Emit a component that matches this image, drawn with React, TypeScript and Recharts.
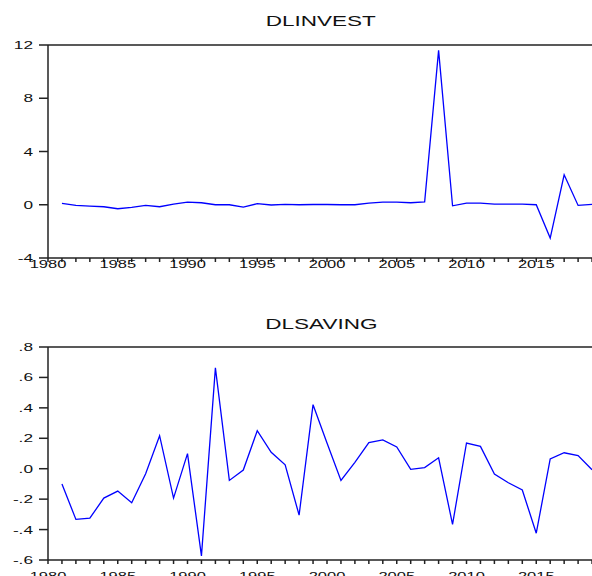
import { LineChart, Line, XAxis, YAxis, ReferenceLine } from "recharts";

const years = [
  1981, 1982, 1983, 1984, 1985, 1986, 1987, 1988, 1989, 1990,
  1991, 1992, 1993, 1994, 1995, 1996, 1997, 1998, 1999, 2000,
  2001, 2002, 2003, 2004, 2005, 2006, 2007, 2008, 2009, 2010,
  2011, 2012, 2013, 2014, 2015, 2016, 2017, 2018, 2019,
];

const dlinvest = [
  0.1, -0.05, -0.1, -0.15, -0.3, -0.2, -0.05, -0.15, 0.05, 0.2,
  0.15, 0.0, 0.0, -0.18, 0.08, -0.02, 0.03, 0.0, 0.02, 0.02,
  0.0, 0.0, 0.12, 0.2, 0.2, 0.15, 0.22, 11.6, -0.08, 0.12,
  0.12, 0.05, 0.05, 0.05, 0.0, -2.5, 2.25, -0.05, 0.03,
];

const dlsaving = [
  -0.1, -0.333, -0.325, -0.193, -0.147, -0.224, -0.033, 0.217, -0.193, 0.099,
  -0.573, 0.663, -0.077, -0.009, 0.25, 0.108, 0.026, -0.305, 0.421, 0.169,
  -0.077, 0.042, 0.171, 0.189, 0.143, -0.004, 0.007, 0.072, -0.366, 0.169,
  0.147, -0.035, -0.092, -0.14, -0.424, 0.064, 0.105, 0.086, -0.007,
];

const xTicks = [
  1980, 1981, 1982, 1983, 1984, 1985, 1986, 1987, 1988, 1989,
  1990, 1991, 1992, 1993, 1994, 1995, 1996, 1997, 1998, 1999,
  2000, 2001, 2002, 2003, 2004, 2005, 2006, 2007, 2008, 2009,
  2010, 2011, 2012, 2013, 2014, 2015, 2016, 2017, 2018, 2019, 2020,
];
const yearLabels = [1980, 1985, 1990, 1995, 2000, 2005, 2010, 2015];
const investTicks = [-4, 0, 4, 8, 12];
const savingTicks = [-0.6, -0.4, -0.2, 0, 0.2, 0.4, 0.6, 0.8];

const investData = years.map((year, i) => ({ year, value: dlinvest[i] }));
const savingData = years.map((year, i) => ({ year, value: dlsaving[i] }));

const FONT = "'Liberation Sans', Arial, sans-serif";
const AXIS = "#222";

function makeYearTick(offset: number) {
  return function YearTick(props: any) {
    const { x, y, payload } = props;
    if (!yearLabels.includes(payload.value)) return null;
    return (
      <text
        transform={`translate(${x},${y + offset}) scale(1.5,1)`}
        textAnchor="middle"
        fontSize={11}
        fontFamily={FONT}
        fill="#111"
      >
        {payload.value}
      </text>
    );
  };
}

function makeValueTick(fmt: (v: number) => string) {
  return function ValueTick(props: any) {
    const { y, payload } = props;
    return (
      <text
        transform={`translate(33,${y + 4}) scale(1.5,1)`}
        textAnchor="end"
        fontSize={11.5}
        fontFamily={FONT}
        fill="#111"
      >
        {fmt(payload.value)}
      </text>
    );
  };
}

const InvestTick = makeValueTick((v) => String(v));
const SavingTick = makeValueTick((v) => v.toFixed(1).replace("0.", "."));
const TopYearTick = makeYearTick(6);
const BottomYearTick = makeYearTick(16);

function Title({ text, top }: { text: string; top: number }) {
  return (
    <div
      style={{
        position: "absolute",
        left: 0,
        top,
        width: 642,
        textAlign: "center",
        fontFamily: FONT,
        fontSize: 15,
        lineHeight: "15px",
        color: "#111",
      }}
    >
      <span style={{ display: "inline-block", transform: "scaleX(1.5)" }}>{text}</span>
    </div>
  );
}

function Panel({
  data,
  domain,
  ticks,
  tick,
  xTick,
  top,
  marginTop,
  marginBottom,
  height,
}: {
  data: { year: number; value: number }[];
  domain: [number, number];
  ticks: number[];
  tick: any;
  xTick: any;
  top: number;
  marginTop: number;
  marginBottom: number;
  height: number;
}) {
  return (
    <div style={{ position: "absolute", left: 0, top }}>
      <LineChart
        width={620}
        height={height}
        data={data}
        margin={{ top: marginTop, right: 14, left: 0, bottom: marginBottom }}
      >
        <XAxis
          dataKey="year"
          type="number"
          domain={[1980, 2020]}
          ticks={xTicks}
          interval={0}
          tickSize={4}
          tickMargin={0}
          height={20}
          stroke={AXIS}
          strokeWidth={1.5}
          tick={xTick}
        />
        <YAxis
          type="number"
          domain={domain}
          ticks={ticks}
          interval={0}
          width={48}
          tickSize={9}
          tickMargin={0}
          stroke={AXIS}
          strokeWidth={1.5}
          tick={tick}
        />
        <ReferenceLine y={domain[1]} stroke={AXIS} strokeWidth={1.5} />
        <Line
          type="linear"
          dataKey="value"
          stroke="#0000ff"
          strokeWidth={1.3}
          dot={false}
          isAnimationActive={false}
        />
      </LineChart>
    </div>
  );
}

export default function App() {
  return (
    <div
      style={{
        position: "absolute",
        left: 0,
        top: 0,
        width: 592,
        height: 576,
        overflow: "hidden",
        background: "#fff",
      }}
    >
      <Title text="DLINVEST" top={13} />
      <Panel
        data={investData}
        domain={[-4, 12]}
        ticks={investTicks}
        tick={<InvestTick />}
        xTick={<TopYearTick />}
        top={0}
        marginTop={45}
        marginBottom={12}
        height={290}
      />
      <Title text="DLSAVING" top={316} />
      <Panel
        data={savingData}
        domain={[-0.6, 0.8]}
        ticks={savingTicks}
        tick={<SavingTick />}
        xTick={<BottomYearTick />}
        top={300}
        marginTop={47}
        marginBottom={20}
        height={300}
      />
    </div>
  );
}
